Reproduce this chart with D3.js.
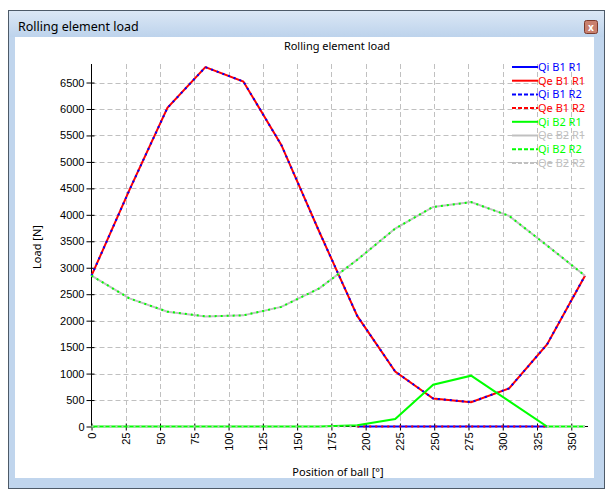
<!DOCTYPE html>
<html>
<head>
<meta charset="utf-8">
<script src="https://cdn.jsdelivr.net/npm/d3@7/dist/d3.min.js"></script>
<style>
  body { margin: 0; background: #fff; }
  svg { display: block; font-family: "Noto Sans", sans-serif; }
  .grid line { stroke: #c0c0c0; stroke-dasharray: 5,3; }
</style>
</head>
<body>
<div id="chart"></div>
<script>
// ball positions [deg] (13 balls)
var positions = [0, 27.69, 55.38, 83.08, 110.77, 138.46, 166.15, 193.85, 221.54, 249.23, 276.92, 304.62, 332.31, 360];

// loads [N]
var loadB1 = [2850, 4470, 6020, 6790, 6520, 5320, 3680, 2090, 1040, 530, 460, 720, 1550, 2850];
var loadB1Zone = [null, null, null, null, null, null, null, 0, 0, 0, 0, 0, 0, null];
var loadB2 = [2850, 2420, 2170, 2080, 2100, 2260, 2610, 3150, 3740, 4150, 4240, 3980, 3420, 2850];
var loadB2Low = [0, 0, 0, 0, 0, 0, 0, 25, 140, 790, 960, 480, 0, 0];
var loadB2Free = [0, 0, 0, 0, 0, 0, 0, 0, null, null, null, null, 0, 0];

var seriesNames = ["Qi B1 R1", "Qe B1 R1", "Qi B1 R2", "Qe B1 R2", "Qi B2 R1", "Qe B2 R1", "Qi B2 R2", "Qe B2 R2"];
var seriesColors = ["#0000ff", "#ff0000", "#0000ff", "#ff0000", "#00ff00", "#c0c0c0", "#00ff00", "#c0c0c0"];
var seriesDashed = [false, false, true, true, false, false, true, true];
var seriesValues = [loadB1Zone, loadB1, loadB1, loadB1Zone, loadB2Low, loadB2, loadB2, loadB2Free];

var xTicks = [0, 25, 50, 75, 100, 125, 150, 175, 200, 225, 250, 275, 300, 325, 350];
var yTicks = [0, 500, 1000, 1500, 2000, 2500, 3000, 3500, 4000, 4500, 5000, 5500, 6000, 6500];

var W = 611, H = 492;
var plot = {left: 91.5, right: 585, top: 64, bottom: 426.5};

var svg = d3.select("#chart").append("svg")
    .attr("width", W)
    .attr("height", H);

// window frame
var grad = svg.append("defs").append("linearGradient")
    .attr("id", "titleGrad").attr("x1", 0).attr("y1", 0).attr("x2", 0).attr("y2", 1);
grad.append("stop").attr("offset", "0%").attr("stop-color", "#dbe7f5");
grad.append("stop").attr("offset", "100%").attr("stop-color", "#bdd3ec");

svg.append("rect")
    .attr("x", 8.5).attr("y", 10.5)
    .attr("width", 596).attr("height", 478)
    .attr("fill", "#c0d5ed")
    .attr("stroke", "#4d5a68");
svg.append("rect")
    .attr("x", 9).attr("y", 11)
    .attr("width", 595).attr("height", 26)
    .attr("fill", "url(#titleGrad)");
svg.append("rect")
    .attr("x", 15).attr("y", 37)
    .attr("width", 579).attr("height", 441)
    .attr("fill", "#fff");

svg.append("text")
    .attr("x", 18).attr("y", 31)
    .style("font-size", "12.5px")
    .attr("fill", "#000")
    .text("Rolling element load");

// close button
svg.append("rect")
    .attr("x", 584.5).attr("y", 20.5)
    .attr("width", 13).attr("height", 13)
    .attr("rx", 2)
    .attr("fill", "#c9806e")
    .attr("stroke", "#7a3a2c");
svg.append("text")
    .attr("x", 591).attr("y", 30.5)
    .attr("text-anchor", "middle")
    .style("font-size", "10px")
    .style("font-weight", "bold")
    .attr("fill", "#fff")
    .text("x");

var xScale = d3.scaleLinear().domain([0, 360]).range([plot.left, plot.right]);
var yScale = d3.scaleLinear().domain([0, 6850]).range([plot.bottom, plot.top]);

// grid
var grid = svg.append("g").attr("class", "grid");
grid.selectAll(".gy")
    .data(yTicks.slice(1))
    .enter().append("line")
    .attr("x1", plot.left).attr("x2", plot.right)
    .attr("y1", function (d) { return Math.round(yScale(d)) + 0.5; })
    .attr("y2", function (d) { return Math.round(yScale(d)) + 0.5; });
grid.selectAll(".gx")
    .data(xTicks.slice(1))
    .enter().append("line")
    .attr("y1", plot.top).attr("y2", plot.bottom)
    .attr("x1", function (d) { return Math.round(xScale(d)) + 0.5; })
    .attr("x2", function (d) { return Math.round(xScale(d)) + 0.5; });

// axes
var yAxis = d3.axisLeft(yScale)
    .tickValues(yTicks)
    .tickFormat(d3.format("d"))
    .tickSizeInner(5)
    .tickSizeOuter(0)
    .tickPadding(2);
var xAxis = d3.axisBottom(xScale)
    .tickValues(xTicks)
    .tickFormat(d3.format("d"))
    .tickSizeInner(4)
    .tickSizeOuter(0);

var yAxisG = svg.append("g")
    .attr("transform", "translate(" + plot.left + ",0)")
    .call(yAxis);
yAxisG.select("path.domain").attr("d", "M0," + plot.top + "V" + plot.bottom);
yAxisG.selectAll(".tick line").attr("x2", -5).attr("x1", 3);
yAxisG.selectAll("text").style("font-size", "11px").attr("fill", "#000");

var xAxisG = svg.append("g")
    .attr("transform", "translate(0," + plot.bottom + ")")
    .call(xAxis);
xAxisG.select("path.domain").attr("d", "M" + plot.left + ",0H" + (plot.right + 3));
xAxisG.selectAll(".tick line").attr("y1", -3).attr("y2", 4);
xAxisG.selectAll("text")
    .style("font-size", "11px")
    .attr("fill", "#000")
    .attr("text-anchor", "end")
    .attr("dy", null)
    .attr("y", 0)
    .attr("transform", "translate(0,6) rotate(-90)")
    .attr("dominant-baseline", "central");

svg.selectAll(".domain, .tick line").attr("stroke", "#000");

// series
var line = d3.line()
    .defined(function (d) { return d.v !== null; })
    .x(function (d) { return xScale(d.x); })
    .y(function (d) { return yScale(d.v); });

seriesValues.forEach(function (vals, i) {
    var pts = positions.map(function (p, j) { return {x: p, v: vals[j]}; });
    svg.append("path")
        .attr("d", line(pts))
        .attr("fill", "none")
        .attr("stroke", seriesColors[i])
        .attr("stroke-width", 2)
        .attr("stroke-dasharray", seriesDashed[i] ? "2,4" : null);
});

// titles
svg.append("text")
    .attr("x", 337).attr("y", 50)
    .attr("text-anchor", "middle")
    .style("font-size", "11px")
    .text("Rolling element load");

svg.append("text")
    .attr("x", 338).attr("y", 476)
    .attr("text-anchor", "middle")
    .style("font-size", "11px")
    .text("Position of ball [°]");

svg.append("text")
    .attr("transform", "translate(41,247) rotate(-90)")
    .attr("text-anchor", "middle")
    .style("font-size", "11px")
    .text("Load [N]");

// legend
var legend = svg.append("g").attr("transform", "translate(512,67)");
seriesNames.forEach(function (name, i) {
    var g = legend.append("g").attr("transform", "translate(0," + (i * 13.7) + ")");
    g.append("line")
        .attr("x1", 0).attr("x2", 26)
        .attr("y1", 0).attr("y2", 0)
        .attr("stroke", seriesColors[i])
        .attr("stroke-width", 2)
        .attr("stroke-dasharray", seriesDashed[i] ? "4,2" : null);
    g.append("text")
        .attr("x", 26).attr("y", 0)
        .attr("dy", "0.36em")
        .style("font-size", "11px")
        .attr("fill", seriesColors[i])
        .text(name);
});
</script>
</body>
</html>
